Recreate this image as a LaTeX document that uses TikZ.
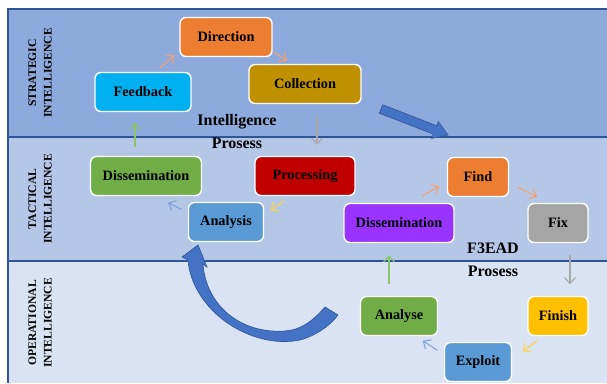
\documentclass[tikz,border=0pt]{standalone}
\usepackage{fontspec}
\setmainfont{Liberation Serif}
\usetikzlibrary{arrows.meta}
\definecolor{bandtop}{HTML}{8EA9DB}
\definecolor{bandmid}{HTML}{B4C7E7}
\definecolor{bandlow}{HTML}{DAE3F3}
\definecolor{bandline}{HTML}{2F5597}
\definecolor{boxorange}{HTML}{ED7D31}
\definecolor{boxgold}{HTML}{BF9000}
\definecolor{boxcyan}{HTML}{00B0F0}
\definecolor{boxgreen}{HTML}{70AD47}
\definecolor{boxred}{HTML}{C00000}
\definecolor{boxblue}{HTML}{5B9BD5}
\definecolor{boxgray}{HTML}{A5A5A5}
\definecolor{boxpurple}{HTML}{9933FF}
\definecolor{boxyellow}{HTML}{FFC000}
\definecolor{bigblue}{HTML}{4472C4}
\definecolor{flowor}{HTML}{F4A070}
\definecolor{flowgr}{HTML}{A8A8A8}
\definecolor{flowye}{HTML}{FFD24A}
\definecolor{flowbl}{HTML}{7FA3DA}
\definecolor{flowgn}{HTML}{8CC46A}
\begin{document}
\begin{tikzpicture}
            [x=1pt, y=-1pt,
             box/.style = {rounded corners=6pt, draw=white, line width=1.4pt, minimum height=39pt, inner sep=0pt,
                           font=\fontsize{14.3}{16}\selectfont\bfseries},
             flow/.style = {line width=1.1pt, -{Straight Barb[length=6pt,width=11pt]}},
             title/.style = {align=center, font=\fontsize{16}{23}\selectfont\bfseries},
             side/.style = {rotate=90, align=center, font=\fontsize{11.6}{15.5}\selectfont\bfseries},
             bigarrow/.style = {fill=bigblue, draw=bandline, line width=0.6pt}]
            \useasboundingbox (0,0) rectangle (607,383);
            % bands
            \fill[bandtop] (8,9) rectangle (607,137);
            \fill[bandmid] (8,137) rectangle (607,261);
            \fill[bandlow] (8,261) rectangle (607,383);
            \draw[bandline, line width=1.5pt] (607,9) -- (8,9) -- (8,383);
            \draw[bandline, line width=1.5pt] (8,137) -- (607,137);
            \draw[bandline, line width=1.5pt] (8,261) -- (607,261);
            \node[side] (strat) at (40,73) {STRATEGIC\\INTELLIGENCE};
            \node[side] (tact) at (40,199) {TACTICAL\\INTELLIGENCE};
            \node[side] (oper) at (40,323) {OPERATIONAL\\INTELLIGENCE};
            % intelligence cycle
            \node[box, fill=boxorange, minimum width=92pt] (dir) at (226,37) {Direction};
            \node[box, fill=boxgold, minimum width=112pt] (col) at (305,84) {Collection};
            \node[box, fill=boxcyan, minimum width=96pt] (fb) at (143,92) {Feedback};
            \node[box, fill=boxgreen, minimum width=111pt] (dissA) at (146,176) {Dissemination};
            \node[box, fill=boxred, minimum width=100pt] (proc) at (305,176) {Processing};
            \node[box, fill=boxblue, minimum width=75pt] (ana) at (226,222) {Analysis};
            \node[title] (intproc) at (237,132) {Intelligence\\Prosess};
            % f3ead cycle
            \node[box, fill=boxorange, minimum width=61pt] (find) at (478,177) {Find};
            \node[box, fill=boxgray, minimum width=60pt] (fix) at (558,223) {Fix};
            \node[box, fill=boxpurple, minimum width=110pt] (dissB) at (399,223) {Dissemination};
            \node[box, fill=boxyellow, minimum width=60pt] (fin) at (558,316) {Finish};
            \node[box, fill=boxgreen, minimum width=77pt] (anl) at (399,316) {Analyse};
            \node[box, fill=boxblue, minimum width=67pt] (exp) at (478,362) {Exploit};
            \node[title] (f3proc) at (493,259.5) {F3EAD\\Prosess};
            % small arrows
            \draw[flow, flowor] ([xshift=17pt,yshift=4pt]fb.north) -- ([xshift=-5pt,yshift=2pt]dir.south west);
            \draw[flow, flowor] ([xshift=1pt,yshift=5pt]dir.south east) -- ([xshift=-18pt,yshift=3pt]col.north);
            \draw[flow, flowgr] ([xshift=12pt,yshift=-12pt]col.south) -- ([xshift=12pt,yshift=11pt]proc.north);
            \draw[flow, flowye] ([xshift=30pt,yshift=-4.5pt]proc.south west) -- ([xshift=6.5pt,yshift=-8.5pt]ana.north east);
            \draw[flow, flowbl] ([xshift=-6.5pt,yshift=-7.5pt]ana.north west) -- ([xshift=22pt,yshift=-6.5pt]dissA.south);
            \draw[flow, flowgn] ([xshift=-11pt,yshift=8.5pt]dissA.north) -- ([xshift=-8pt,yshift=-10.5pt]fb.south);
            \draw[flow, flowor] ([xshift=23pt,yshift=7pt]dissB.north) -- ([xshift=-7.5pt,yshift=11pt]find.south west);
            \draw[flow, flowor] ([xshift=8.5pt,yshift=10pt]find.south east) -- ([xshift=-21pt,yshift=6pt]fix.north);
            \draw[flow, flowgr] ([xshift=12pt,yshift=-12pt]fix.south) -- ([xshift=12pt,yshift=11.5pt]fin.north);
            \draw[flow, flowye] ([xshift=10pt,yshift=-4.5pt]fin.south west) -- ([xshift=10.5pt,yshift=-9.5pt]exp.north east);
            \draw[flow, flowbl] ([xshift=-6.5pt,yshift=-8.5pt]exp.north west) -- ([xshift=-15.5pt,yshift=-4.5pt]anl.south east);
            \draw[flow, flowgn] ([xshift=-10pt,yshift=11.5pt]anl.north) -- ([xshift=-10pt,yshift=-12pt]dissB.south);
            % big arrows
            \filldraw[bigarrow] (382.7,104.8) -- (436.7,125.7) -- (438.3,121.5) -- (448,135)
                -- (431.7,138.4) -- (433.3,134.1) -- (379.3,113.2) -- cycle;
            \filldraw[bigarrow] (188,260) .. controls (192,310) and (250,350) .. (300,340)
                .. controls (315,336) and (330,326) .. (338,315) -- (325,307)
                .. controls (312,322) and (300,330) .. (285,331)
                .. controls (240,334) and (206,305) .. (203,264)
                -- (207,267) -- (198,245) -- (182,257) -- cycle;
        \end{tikzpicture}
\end{document}
